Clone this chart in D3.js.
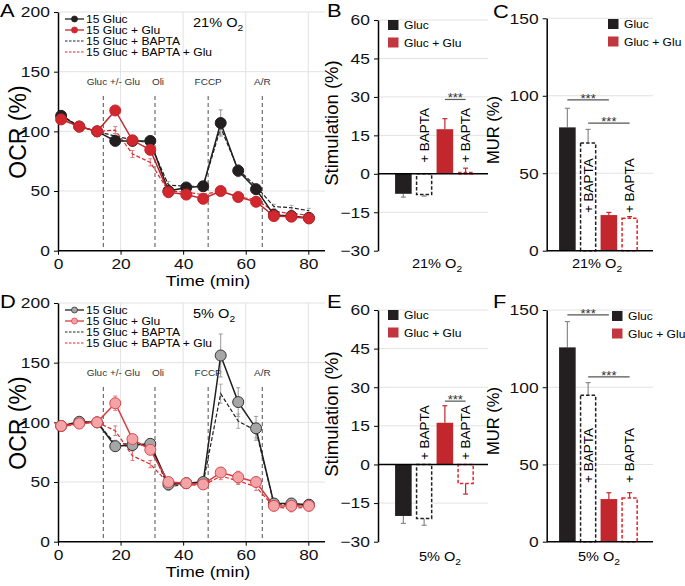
<!DOCTYPE html>
<html>
<head>
<meta charset="utf-8">
<script src="https://cdn.jsdelivr.net/npm/d3@7"></script>
<style>
  body { margin: 0; background: #fff; }
  svg { font-family: "Liberation Sans", Arial, sans-serif; }
</style>
</head>
<body>
<div id="fig"></div>
<script>
// sample times (min)
const times = [1.0, 6.8, 12.5, 18.3, 23.8, 29.5, 35.3, 41.0, 46.4, 52.0, 57.6, 63.3, 69.0, 74.6, 80.2];

// OCR (%) at 21% O2
const a_gluc = [113, 104, 100, 92, 92, 92, 50, 53, 54, 107, 67, 51.5, 30, 29, 27.5];
const a_glu = [110, 104, 100, 117.5, 92.5, 84.5, 49, 47, 43.5, 50, 45, 41, 29, 28.5, 27];
const a_gluc_bapta = [114, 104, 100, 96, 93, 90, 55, 54, 54, 103, 68, 54, 37, 36, 33.5];
const a_glu_bapta = [110, 104, 100, 101, 81, 74, 50, 49, 47, 50, 45, 43, 33, 31, 30];
const a_gluc_err = [4, 1, 1, 1, 1, 1, 2, 1, 1, 11, 5, 2, 1, 1, 1];
const a_glu_err = [2, 2, 1, 3, 2, 2, 2, 1, 1, 1, 2, 2, 1, 1, 1];
const a_gluc_bapta_err = [3, 1, 1, 2, 2, 2, 3, 2, 2, 6, 3, 2, 2, 2, 2];
const a_glu_bapta_err = [2, 2, 2, 3, 3, 3, 2, 1, 1, 1, 2, 2, 2, 2, 2];

// OCR (%) at 5% O2
const d_gluc = [97, 100.5, 100, 80, 81, 82, 48, 49, 50, 156, 117, 95, 32, 32, 31];
const d_glu = [97, 99, 100, 116, 86, 77, 50, 49, 48, 58, 54, 50, 30, 30, 30];
const d_gluc_bapta = [97, 100, 100, 82, 82, 80, 46, 48, 49, 124, 101, 93, 32, 31, 30];
const d_glu_bapta = [96, 99, 100, 93, 72, 65, 49, 48, 47, 55, 51, 46, 29, 28, 29];
const d_gluc_err = [3, 2, 2, 2, 2, 2, 3, 2, 2, 18, 12, 10, 2, 3, 2];
const d_glu_err = [3, 2, 2, 6, 3, 3, 3, 3, 3, 4, 5, 4, 3, 3, 3];
const d_gluc_bapta_err = [3, 2, 2, 3, 3, 3, 3, 2, 2, 8, 6, 6, 2, 5, 2];
const d_glu_bapta_err = [3, 2, 2, 4, 4, 3, 2, 2, 2, 3, 3, 3, 2, 3, 3];

const seriesNames = ["15 Gluc", "15 Gluc + Glu", "15 Gluc + BAPTA", "15 Gluc + BAPTA + Glu"];
const events = [{ t: 14.5, label: "Gluc +/- Glu" }, { t: 31, label: "Oli" }, { t: 48, label: "FCCP" }, { t: 65.3, label: "A/R" }];
const ocrTicks = [0, 50, 100, 150, 200];
const timeTicks = [0, 20, 40, 60, 80];

// bar panels: Gluc, Gluc + BAPTA, Gluc + Glu, Gluc + Glu + BAPTA
const barGroups = ["Gluc", "Gluc BAPTA", "Glu", "Glu BAPTA"];
const b_stim = [-7.8, -8.1, 17.4, 0.5];
const b_err = [1.3, 0.6, 4.1, 1.7];
const c_mur = [79.6, 69.5, 23, 21];
const c_err = [12.3, 8.8, 1.7, 1];
const e_stim = [-20, -21, 16.2, -7.4];
const e_err = [2.9, 2.6, 6.6, 4.1];
const f_mur = [125.8, 94.8, 27.6, 28.3];
const f_err = [16.7, 8.2, 4.1, 3.4];
const stimTicks = [-30, -15, 0, 15, 30, 45, 60];
const murTicks = [0, 50, 100, 150];
const legendNames = ["Gluc", "Gluc + Glu"];

const BLACK = "#231f20";
const RED = "#c1272d";
const GRID = "#e2e2e2";

const svg = d3.select("#fig").append("svg").attr("width", 685).attr("height", 586);

// the original figure is a bit wider than tall, so horizontal text gets stretched
function label(g, x, y, size, sx, txt) {
  return g.append("text")
    .attr("transform", `translate(${x},${y}) scale(${sx},1)`)
    .attr("font-size", size)
    .text(txt);
}

function o2Text(sel, pct, size) {
  sel.append("tspan").text(pct + "% O");
  sel.append("tspan").attr("font-size", size * 0.7).attr("dy", size * 0.3).text("2");
}

function ocrPanel(top, letter, o2, data, errs, low) {
  const g = svg.append("g");
  const x = d3.scaleLinear().domain([0, 80]).range([58, 308.3]);
  const y = d3.scaleLinear().domain([0, 200]).range([top + 250.7, top + 12]);

  // grid
  g.selectAll(".vg").data([20, 40, 60, 80]).enter().append("line")
    .attr("x1", (d) => x(d)).attr("x2", (d) => x(d))
    .attr("y1", y(200)).attr("y2", y(0))
    .attr("stroke", GRID).attr("stroke-width", 1);
  g.selectAll(".hg").data([50, 100, 150, 200]).enter().append("line")
    .attr("x1", x(0)).attr("x2", 325)
    .attr("y1", (d) => y(d)).attr("y2", (d) => y(d))
    .attr("stroke", GRID).attr("stroke-width", 1);

  // injections
  g.selectAll(".ev").data(events).enter().append("line")
    .attr("x1", (d) => x(d.t)).attr("x2", (d) => x(d.t))
    .attr("y1", top + 96).attr("y2", y(0))
    .attr("stroke", "#6d6d6d").attr("stroke-width", 1.2)
    .attr("stroke-dasharray", "4,3");
  events.forEach((d, i) => {
    label(g, x(d.t) + [10, 3, 0, 0][i], top + 84.5, 9.5, 1.05, d.label)
      .attr("text-anchor", "middle").attr("fill", "#333");
  });

  // axes
  const ya = g.append("g").attr("transform", `translate(${x(0)},0)`)
    .call(d3.axisLeft(y).tickValues(ocrTicks).tickSize(4).tickPadding(3).tickSizeOuter(0));
  ya.select(".domain").attr("stroke-width", 1.5);
  ya.selectAll("text").attr("font-size", 15).attr("fill", "#111").attr("transform", "scale(1.16,1)");
  const xa = g.append("g").attr("transform", `translate(0,${y(0)})`)
    .call(d3.axisBottom(x).tickValues(timeTicks).tickSize(4).tickPadding(4).tickSizeOuter(0));
  xa.select(".domain").remove();
  xa.selectAll("text").attr("font-size", 15).attr("fill", "#111").attr("transform", "scale(1.16,1)");
  g.append("line").attr("x1", x(0)).attr("x2", 325).attr("y1", y(0)).attr("y2", y(0))
    .attr("stroke", "#000").attr("stroke-width", 1.5);

  label(g, 208, top + 286, 15.5, 1.15, "Time (min)").attr("text-anchor", "middle");
  g.append("text").attr("transform", `translate(26,${top + 132}) rotate(-90)`)
    .attr("text-anchor", "middle").attr("font-size", 23).text("OCR (%)");
  label(g, 0, top + 17, 17.5, 1.25, letter);
  label(g, 193, top + 27, 13, 1.12, "").call(o2Text, o2, 13);

  const styles = [
    { stroke: BLACK, fill: low ? "#a6a6a6" : BLACK, mstroke: low ? "#333" : BLACK, err: "#999", dash: null, marker: true },
    { stroke: low ? "#d9383e" : RED, fill: low ? "#f4a3a6" : "#d0282e", mstroke: low ? "#d9484d" : "#c9252b", err: "#e07a7d", dash: null, marker: true },
    { stroke: BLACK, err: "#aaa", dash: "4,2", marker: false },
    { stroke: "#e0262c", err: "#e07a7d", dash: "4,2", marker: false }
  ];
  const line = d3.line().x((d, i) => x(times[i])).y((d) => y(d));
  const order = [2, 3, 0, 1];

  order.forEach((k) => {
    const st = styles[k];
    // error bars
    const eg = g.append("g");
    data[k].forEach((v, i) => {
      const e = errs[k][i];
      eg.append("line").attr("x1", x(times[i])).attr("x2", x(times[i]))
        .attr("y1", y(v - e)).attr("y2", y(v + e)).attr("stroke", st.err).attr("stroke-width", 1);
      [v - e, v + e].forEach((w) => {
        eg.append("line").attr("x1", x(times[i]) - 2).attr("x2", x(times[i]) + 2)
          .attr("y1", y(w)).attr("y2", y(w)).attr("stroke", st.err).attr("stroke-width", 1);
      });
    });
    g.append("path").datum(data[k])
      .attr("fill", "none").attr("stroke", st.stroke)
      .attr("stroke-width", st.dash ? 1.2 : 1.5)
      .attr("stroke-dasharray", st.dash)
      .attr("d", line);
    if (st.marker) {
      g.selectAll(".m" + k).data(data[k]).enter().append("circle")
        .attr("cx", (d, i) => x(times[i])).attr("cy", (d) => y(d))
        .attr("r", 5.5).attr("fill", st.fill).attr("stroke", st.mstroke).attr("stroke-width", 1);
    }
  });

  // legend
  const lg = g.append("g");
  seriesNames.forEach((name, k) => {
    const st = styles[k];
    const ly = top + 19 + k * 11;
    lg.append("line").attr("x1", 65).attr("x2", 84).attr("y1", ly).attr("y2", ly)
      .attr("stroke", st.stroke).attr("stroke-width", st.dash ? 1 : 1.3)
      .attr("stroke-dasharray", st.dash ? "2.5,1.5" : null);
    if (st.marker) {
      lg.append("circle").attr("cx", 74.5).attr("cy", ly).attr("r", 3)
        .attr("fill", st.fill).attr("stroke", st.mstroke).attr("stroke-width", 0.8);
    }
    label(lg, 86, ly + 4, 11, 1.1, name);
  });
}

function barPanel(opt) {
  const g = svg.append("g");
  const y = d3.scaleLinear().domain(opt.domain).range(opt.range);
  const x = d3.scaleBand().domain(barGroups).range(opt.band).paddingInner(0.2).paddingOuter(0.1);
  const zero = opt.domain[0] < 0 ? 0 : opt.domain[0];

  g.selectAll(".hg").data(opt.ticks.filter((d) => d !== 0 && d !== opt.domain[0])).enter().append("line")
    .attr("x1", opt.axisX).attr("x2", opt.right)
    .attr("y1", (d) => y(d)).attr("y2", (d) => y(d))
    .attr("stroke", GRID).attr("stroke-width", 1);

  const ya = g.append("g").attr("transform", `translate(${opt.axisX},0)`)
    .call(d3.axisLeft(y).tickValues(opt.ticks).tickSize(4).tickPadding(3).tickSizeOuter(0));
  ya.select(".domain").attr("stroke-width", 1.5);
  ya.selectAll("text").attr("font-size", 15).attr("fill", "#111").attr("transform", "scale(1.16,1)");

  // bars
  const solid = [true, false, true, false];
  const col = [BLACK, BLACK, RED, "#e0262c"];
  opt.values.forEach((v, i) => {
    const x0 = x(barGroups[i]);
    const y1 = y(Math.max(v, 0));
    const y2 = y(Math.min(v, 0));
    const sgn = v >= 0 ? 1 : -1;
    const ey = y(v + sgn * opt.errs[i]);
    const ec = i < 2 ? "#8a8a8a" : RED;
    g.append("line").attr("x1", x0 + x.bandwidth() / 2).attr("x2", x0 + x.bandwidth() / 2)
      .attr("y1", y(v)).attr("y2", ey).attr("stroke", ec).attr("stroke-width", 1.2);
    g.append("line").attr("x1", x0 + x.bandwidth() / 2 - 2.5).attr("x2", x0 + x.bandwidth() / 2 + 2.5)
      .attr("y1", ey).attr("y2", ey).attr("stroke", ec).attr("stroke-width", 1.2);
    if (solid[i]) {
      g.append("rect").attr("x", x0).attr("y", y1).attr("width", x.bandwidth())
        .attr("height", Math.max(0, y2 - y1)).attr("fill", col[i]);
    } else {
      g.append("rect").attr("x", x0 + 0.75).attr("y", y1).attr("width", x.bandwidth() - 1.5)
        .attr("height", Math.max(0, y2 - y1)).attr("fill", "#fff")
        .attr("stroke", col[i]).attr("stroke-width", 1.5).attr("stroke-dasharray", "3.5,2");
    }
  });

  g.append("line").attr("x1", opt.axisX).attr("x2", opt.right).attr("y1", y(zero)).attr("y2", y(zero))
    .attr("stroke", "#000").attr("stroke-width", 1.5);

  // + BAPTA labels
  [1, 3].forEach((i) => {
    const cx = x(barGroups[i]) + x.bandwidth() / 2;
    g.append("text").attr("transform", `translate(${cx},${y(opt.labelAt)}) rotate(-90)`)
      .attr("dy", "0.35em").attr("font-size", 13.5).text("+ BAPTA");
  });

  // significance
  opt.sig.forEach((s) => {
    const xa = x(barGroups[s.a]) + x.bandwidth() / 2;
    const xb = x(barGroups[s.b]) + x.bandwidth() / 2;
    g.append("line").attr("x1", xa).attr("x2", xb).attr("y1", y(s.at)).attr("y2", y(s.at))
      .attr("stroke", "#555").attr("stroke-width", 1.2);
    g.append("text").attr("x", (xa + xb) / 2).attr("y", y(s.at) + 3).attr("text-anchor", "middle")
      .attr("font-size", 13).attr("fill", "#333").text("***");
  });

  // legend
  legendNames.forEach((name, k) => {
    g.append("rect").attr("x", opt.legend[0]).attr("y", opt.legend[1] + k * 17.5)
      .attr("width", 10.5).attr("height", 10).attr("fill", k === 0 ? BLACK : "#c1373f");
    label(g, opt.legend[0] + 16, opt.legend[1] + k * 17.5 + 9, 11, 1.1, name);
  });

  g.append("text").attr("transform", `translate(${opt.axisX - opt.titleOff},${opt.titleY}) rotate(-90)`)
    .attr("text-anchor", "middle").attr("font-size", opt.titleSize).text(opt.title);
  label(g, opt.letterX, opt.letterY, 17.5, 1.25, opt.letter);
  label(g, opt.o2x, opt.o2y, 13, 1.12, "").attr("text-anchor", "middle").call(o2Text, opt.o2, 13);
}

ocrPanel(0, "A", 21, [a_gluc, a_glu, a_gluc_bapta, a_glu_bapta],
  [a_gluc_err, a_glu_err, a_gluc_bapta_err, a_glu_bapta_err], false);
ocrPanel(291, "D", 5, [d_gluc, d_glu, d_gluc_bapta, d_glu_bapta],
  [d_gluc_err, d_glu_err, d_gluc_bapta_err, d_glu_bapta_err], true);

barPanel({
  domain: [-30, 60], range: [250.7, 20], ticks: stimTicks, band: [393, 476], axisX: 378, right: 488,
  values: b_stim, errs: b_err, labelAt: 4.3, sig: [{ a: 2, b: 3, at: 29 }],
  legend: [388, 20], title: "Stimulation (%)", titleY: 123, titleSize: 18.5, titleOff: 40,
  letter: "B", letterX: 327, letterY: 17, o2: 21, o2x: 437, o2y: 268
});
barPanel({
  domain: [0, 150], range: [250.7, 18.3], ticks: murTicks, band: [557, 640], axisX: 546.7, right: 653,
  values: c_mur, errs: c_err, labelAt: 24.3, sig: [{ a: 0, b: 2, at: 97.3 }, { a: 1, b: 3, at: 82.4 }],
  legend: [608, 19], title: "MUR (%)", titleY: 130, titleSize: 16.5, titleOff: 48,
  letter: "C", letterX: 493, letterY: 18, o2: 21, o2x: 597, o2y: 268
});
barPanel({
  domain: [-30, 60], range: [541.7, 310], ticks: stimTicks, band: [393, 476], axisX: 378, right: 488,
  values: e_stim, errs: e_err, labelAt: 1.7, sig: [{ a: 2, b: 3, at: 24.6 }],
  legend: [388, 310], title: "Stimulation (%)", titleY: 414, titleSize: 18.5, titleOff: 40,
  letter: "E", letterX: 327, letterY: 308, o2: 5, o2x: 440, o2y: 561
});
barPanel({
  domain: [0, 150], range: [541.7, 310], ticks: murTicks, band: [557, 640], axisX: 546.7, right: 653,
  values: f_mur, errs: f_err, labelAt: 38, sig: [{ a: 0, b: 2, at: 146.8 }, { a: 1, b: 3, at: 106.7 }],
  legend: [612, 311], title: "MUR (%)", titleY: 421, titleSize: 16.5, titleOff: 48,
  letter: "F", letterX: 493, letterY: 308, o2: 5, o2x: 599, o2y: 561
});
</script>
</body>
</html>
